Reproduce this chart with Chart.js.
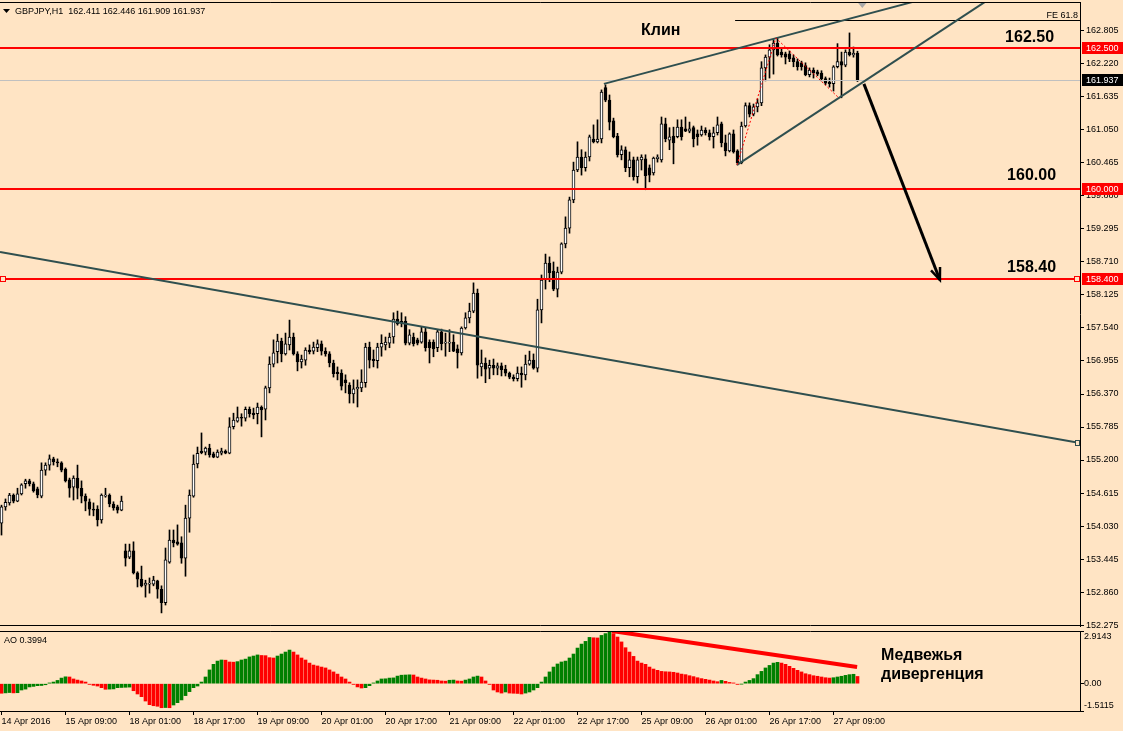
<!DOCTYPE html>
<html>
<head>
<meta charset="utf-8">
<title>GBPJPY H1</title>
<script src="https://cdn.jsdelivr.net/npm/chart.js@4.4.1/dist/chart.umd.min.js"></script>
<style>
  html, body { margin: 0; padding: 0; background: #FFE4C4; }
  #wrap { position: relative; width: 1123px; height: 731px; overflow: hidden; }
  #priceChart { position: absolute; left: 0; top: 0; }
  #aoChart { position: absolute; left: 0; top: 629px; }
</style>
</head>
<body>
<div id="wrap">
  <canvas id="priceChart" width="1123" height="632"></canvas>
  <canvas id="aoChart" width="1123" height="102"></canvas>
</div>
<script>
// Donnees GBPJPY H1
const opens = [
  154.08,154.37,154.44,154.58,154.47,154.60,154.78,154.83,154.78,154.69,
  154.56,155.02,155.11,155.22,155.17,155.15,155.04,154.85,154.72,154.88,
  154.70,154.56,154.46,154.33,154.33,154.14,154.56,154.58,154.42,154.37,
  154.31,153.59,153.48,153.59,153.20,153.09,152.98,153.00,153.00,153.06,
  152.91,152.67,153.39,153.78,153.75,153.73,153.46,154.17,154.56,155.13,
  155.36,155.34,155.41,155.31,155.25,155.32,155.36,155.32,155.79,155.89,
  155.95,155.94,156.10,156.03,156.02,156.14,156.10,156.48,156.90,157.12,
  157.31,157.08,157.24,157.38,157.08,156.94,156.97,157.15,157.13,157.19,
  157.26,157.13,157.08,156.92,156.76,156.74,156.62,156.53,156.37,156.46,
  156.48,156.57,157.20,156.99,156.96,157.20,157.24,157.27,157.38,157.70,
  157.66,157.66,157.27,157.38,157.33,157.29,157.47,157.29,157.29,157.19,
  157.47,157.27,157.27,157.29,157.17,157.10,157.54,157.72,157.84,158.16,
  156.85,156.92,156.83,156.88,156.83,156.87,156.81,156.74,156.67,156.64,
  156.74,156.71,156.90,156.97,156.83,157.86,158.39,158.69,158.55,158.23,
  158.53,159.03,159.31,159.81,160.34,160.57,160.38,160.57,160.89,160.84,
  160.89,161.80,161.58,161.21,160.94,160.61,160.70,160.38,160.52,160.22,
  160.52,160.54,160.38,160.29,160.54,160.52,161.16,160.87,160.94,160.93,
  161.10,161.07,161.03,161.09,160.98,160.96,161.05,161.00,160.93,161.00,
  161.16,160.82,160.68,160.98,160.68,160.47,161.12,161.48,161.33,161.46,
  161.53,162.15,162.34,162.47,162.59,162.43,162.40,162.40,162.33,162.26,
  162.24,162.19,162.03,162.11,162.08,162.06,161.96,161.90,161.87,162.17,
  162.26,162.20,162.43,162.38,162.411
];
const highs = [
  154.40,154.51,154.61,154.60,154.70,154.78,154.86,154.86,154.81,154.72,
  155.15,155.15,155.29,155.25,155.22,155.17,155.06,154.88,154.92,155.11,
  154.83,154.60,154.51,154.44,154.39,154.60,154.70,154.60,154.46,154.40,
  154.56,153.71,153.71,153.75,153.22,153.32,153.07,153.11,153.14,153.07,
  152.97,153.64,153.96,153.96,154.05,153.84,154.40,154.67,155.29,155.43,
  155.68,155.43,155.48,155.34,155.38,155.41,155.38,155.95,156.03,156.14,
  156.02,156.14,156.14,156.12,156.21,156.16,156.51,157.03,157.33,157.43,
  157.36,157.45,157.68,157.45,157.12,157.06,157.19,157.24,157.29,157.33,
  157.31,157.19,157.12,156.97,156.85,156.80,156.71,156.57,156.62,156.62,
  156.80,157.27,157.29,157.15,157.27,157.42,157.38,157.45,157.81,157.84,
  157.81,157.74,157.51,157.45,157.36,157.56,157.54,157.33,157.33,157.51,
  157.52,157.45,157.51,157.42,157.24,157.56,157.81,157.98,158.34,158.23,
  157.15,157.01,156.97,156.99,156.92,156.92,156.88,156.76,156.71,156.85,
  156.85,157.06,157.13,157.08,158.05,158.48,158.85,158.80,158.71,158.62,
  159.05,159.51,159.86,160.48,160.84,160.70,160.66,160.96,161.14,161.23,
  161.76,161.85,161.67,161.26,160.99,160.77,160.75,160.66,160.57,160.57,
  160.61,160.61,160.43,160.57,160.61,161.28,161.26,161.09,161.10,161.23,
  161.23,161.28,161.19,161.12,161.05,161.12,161.09,161.05,161.10,161.28,
  161.19,160.96,161.00,161.05,160.70,161.19,161.53,161.53,161.51,161.60,
  162.26,162.38,162.56,162.65,162.68,162.50,162.43,162.45,162.38,162.31,
  162.27,162.24,162.15,162.15,162.11,162.10,161.99,161.97,162.19,162.58,
  162.43,162.47,162.77,162.52,162.446
];
const lows = [
  153.87,154.31,154.40,154.44,154.46,154.58,154.70,154.74,154.63,154.53,
  154.53,154.93,155.02,155.11,155.08,154.99,154.81,154.54,154.49,154.51,
  154.44,154.30,154.22,154.21,154.03,154.08,154.54,154.37,154.31,154.26,
  154.30,153.32,153.45,153.18,152.95,152.95,152.77,152.84,152.97,152.75,
  152.49,152.63,153.37,153.66,153.69,153.37,153.14,153.92,154.54,155.06,
  155.31,155.29,155.25,155.24,155.24,155.29,155.31,155.31,155.75,155.87,
  155.80,155.89,155.96,155.93,155.84,155.61,155.91,156.39,156.85,156.92,
  156.94,157.06,157.15,157.06,156.78,156.83,156.88,157.08,157.08,157.12,
  157.06,157.04,156.85,156.67,156.62,156.44,156.39,156.21,156.21,156.14,
  156.41,156.49,156.83,156.85,156.83,157.04,157.15,157.19,157.27,157.59,
  157.56,157.24,157.24,157.22,157.24,157.27,157.13,156.92,157.03,157.12,
  157.15,157.04,157.12,157.12,156.83,157.06,157.52,157.63,157.81,156.65,
  156.69,156.57,156.64,156.71,156.71,156.69,156.69,156.64,156.60,156.60,
  156.49,156.62,156.88,156.81,156.76,157.63,158.23,158.36,158.20,158.09,
  158.50,158.96,159.22,159.76,160.31,160.25,160.32,160.50,160.82,160.82,
  160.82,161.55,161.05,160.91,160.57,160.52,160.31,160.22,160.16,160.11,
  160.34,159.99,160.13,160.25,160.48,160.48,160.84,160.70,160.45,160.91,
  160.87,161.02,161.00,160.75,160.78,160.94,160.96,160.87,160.73,160.96,
  160.75,160.59,160.66,160.64,160.43,160.45,161.10,161.28,161.30,161.37,
  161.48,161.92,161.97,162.04,162.36,162.34,162.22,162.26,162.17,162.11,
  162.11,162.01,161.99,161.97,162.01,161.92,161.85,161.81,161.74,162.15,
  161.62,162.17,162.36,162.34,161.909
];
const closes = [
  154.37,154.45,154.58,154.47,154.60,154.76,154.83,154.78,154.65,154.58,
  155.02,155.11,155.22,155.17,155.15,155.02,154.83,154.70,154.88,154.70,
  154.56,154.47,154.33,154.31,154.14,154.58,154.58,154.42,154.35,154.31,
  154.47,153.46,153.59,153.20,153.09,152.97,153.02,153.00,153.07,152.91,
  152.67,153.43,153.78,153.73,153.71,153.46,154.17,154.58,155.13,155.32,
  155.33,155.41,155.29,155.25,155.34,155.36,155.32,155.79,155.91,155.95,
  155.94,156.10,156.02,156.00,156.14,156.09,156.48,156.90,157.10,157.31,
  157.08,157.26,157.38,157.08,156.94,156.99,157.15,157.12,157.20,157.26,
  157.13,157.08,156.92,156.73,156.73,156.51,156.57,156.37,156.46,156.49,
  156.58,157.20,156.97,156.96,157.20,157.27,157.29,157.38,157.70,157.61,
  157.63,157.27,157.42,157.26,157.27,157.47,157.19,157.19,157.17,157.47,
  157.26,157.29,157.29,157.13,157.10,157.54,157.72,157.84,158.16,156.88,
  156.92,156.81,156.88,156.83,156.87,156.80,156.74,156.67,156.64,156.74,
  156.71,156.90,156.97,156.83,157.86,158.39,158.69,158.52,158.23,158.53,
  159.03,159.31,159.81,160.34,160.57,160.38,160.57,160.93,160.84,160.89,
  161.72,161.58,161.19,160.93,160.61,160.70,160.38,160.52,160.22,160.52,
  160.57,160.24,160.25,160.55,160.57,161.16,160.89,160.93,160.82,161.10,
  160.93,161.03,161.07,160.89,160.93,161.05,161.00,160.93,161.00,161.14,
  160.82,160.68,160.98,160.66,160.47,161.12,161.48,161.33,161.46,161.53,
  162.15,162.34,162.47,162.59,162.38,162.38,162.34,162.31,162.26,162.17,
  162.17,162.03,162.11,162.06,162.04,161.96,161.88,161.87,162.17,162.26,
  162.20,162.43,162.38,162.41,161.937
];

// Awesome Oscillator
const aoValues = [
  -0.53,-0.51,-0.49,-0.51,-0.50,-0.35,-0.30,-0.18,-0.15,-0.11,
  -0.10,-0.06,0.04,0.09,0.18,0.31,0.38,0.37,0.26,0.20,
  0.15,0.09,-0.04,-0.09,-0.13,-0.22,-0.31,-0.30,-0.29,-0.22,
  -0.21,-0.20,-0.19,-0.39,-0.57,-0.72,-0.96,-1.16,-1.22,-1.25,
  -1.33,-1.32,-1.33,-1.18,-1.05,-0.90,-0.66,-0.44,-0.22,-0.13,
  0.09,0.37,0.76,1.07,1.25,1.31,1.30,1.20,1.19,1.22,
  1.31,1.36,1.48,1.53,1.59,1.56,1.55,1.44,1.42,1.53,
  1.64,1.75,1.86,1.75,1.59,1.42,1.31,1.14,1.03,0.98,
  0.92,0.87,0.76,0.65,0.53,0.37,0.26,0.09,-0.04,-0.18,
  -0.24,-0.22,-0.11,0.04,0.15,0.26,0.27,0.31,0.32,0.42,
  0.47,0.48,0.49,0.48,0.37,0.31,0.26,0.21,0.20,0.19,
  0.15,0.14,0.19,0.20,0.15,0.14,0.20,0.26,0.37,0.42,
  0.37,0.15,-0.04,-0.35,-0.46,-0.52,-0.46,-0.52,-0.53,-0.54,
  -0.57,-0.52,-0.46,-0.35,-0.22,0.09,0.37,0.65,0.92,1.09,
  1.20,1.25,1.42,1.64,1.97,2.19,2.34,2.56,2.54,2.53,
  2.67,2.77,2.91,2.77,2.58,2.31,1.99,1.75,1.51,1.25,
  1.14,1.07,0.92,0.81,0.74,0.68,0.66,0.65,0.63,0.59,
  0.53,0.50,0.44,0.39,0.33,0.28,0.24,0.20,0.15,0.11,
  0.18,0.13,0.07,0.04,-0.04,-0.02,0.09,0.18,0.28,0.50,
  0.68,0.87,1.01,1.14,1.18,1.14,1.07,0.96,0.85,0.74,
  0.65,0.55,0.50,0.44,0.41,0.37,0.33,0.31,0.33,0.37,
  0.41,0.46,0.50,0.52,0.3994
];

// Echelles
const priceTicks = [162.805,162.220,161.635,161.050,160.465,159.880,159.295,158.710,158.125,
  157.540,156.955,156.370,155.785,155.200,154.615,154.030,153.445,152.860,152.275];
const aoTicks = [2.9143, 0, -1.5115];
const timeTickBars = [0,16,32,48,64,80,96,112,128,144,160,176,192,208];
const timeTickLabels = ['14 Apr 2016','15 Apr 09:00','18 Apr 01:00','18 Apr 17:00','19 Apr 09:00',
  '20 Apr 01:00','20 Apr 17:00','21 Apr 09:00','22 Apr 01:00','22 Apr 17:00','25 Apr 09:00',
  '26 Apr 01:00','26 Apr 17:00','27 Apr 09:00'];

// Niveaux et objets traces
const levels = [162.5, 160.0, 158.4];
const bidPrice = 161.937;
const fePrice = 162.999;

const FONT = '"Liberation Sans", Arial, sans-serif';
const BG = '#FFE4C4';

// Graphique principal : bougies
const wickData = highs.map((h, i) => ({ x: i, y: [lows[i], h] }));
const bodyData = opens.map((o, i) => ({ x: i, y: [o, closes[i]] }));

function line(ctx, pts, color, width, dash) {
  ctx.save();
  ctx.strokeStyle = color;
  ctx.lineWidth = width;
  ctx.setLineDash(dash || []);
  ctx.beginPath();
  pts.forEach((p, k) => k ? ctx.lineTo(p[0], p[1]) : ctx.moveTo(p[0], p[1]));
  ctx.stroke();
  ctx.restore();
}

function priceBox(ctx, yPix, text, fill) {
  const yy = Math.round(yPix);
  ctx.fillStyle = fill;
  ctx.fillRect(1082, yy - 6, 41, 12);
  ctx.fillStyle = '#FFFFFF';
  ctx.font = '9px ' + FONT;
  ctx.textAlign = 'left';
  ctx.textBaseline = 'middle';
  ctx.fillText(text, 1086, yy + 0.5);
}

// pas de marge automatique autour des axes
function noPad(s) { s.paddingTop = 0; s.paddingBottom = 0; s.paddingLeft = 0; s.paddingRight = 0; }

const priceOverlay = {
  id: 'priceOverlay',
  afterDatasetsDraw(chart) {
    const { ctx, chartArea: a, scales: { x, y } } = chart;
    const P = (i, p) => [x.getPixelForValue(i), y.getPixelForValue(p)];
    ctx.save();
    ctx.beginPath();
    ctx.rect(a.left, a.top, a.right - a.left, a.bottom - a.top);
    ctx.clip();

    // ligne du bid
    const yb = Math.round(y.getPixelForValue(bidPrice)) + 0.5;
    line(ctx, [[a.left, yb], [a.right, yb]], '#C0C0C0', 1);

    // niveaux horizontaux
    levels.forEach(p => {
      const v = Math.round(y.getPixelForValue(p));
      line(ctx, [[a.left, v], [a.right, v]], '#FF0000', 2);
    });

    // FE 61.8
    const yf = Math.round(y.getPixelForValue(fePrice)) + 0.5;
    line(ctx, [[x.getPixelForValue(183.4), yf], [a.right, yf]], '#000000', 1);

    // lignes de tendance
    line(ctx, [P(-0.375, 158.889), P(269.625, 155.502)], '#2F4F4F', 2);
    line(ctx, [P(150.6, 161.867), P(227.9, 163.32)], '#2F4F4F', 2);
    line(ctx, [P(183.875, 160.431), P(245.875, 163.32)], '#2F4F4F', 2);

    // zigzag pointille
    line(ctx, [P(183.875, 160.431), P(193.6, 162.68), P(209.1, 161.634)], '#FF0000', 1, [2, 2]);

    // fleche
    const s = P(215.6, 161.867), e = P(234.6, 158.391);
    line(ctx, [s, e], '#000000', 3);
    const ang = Math.atan2(e[1] - s[1], e[0] - s[0]);
    const L = 13, da = 0.38;
    line(ctx, [[e[0] - L * Math.cos(ang - da), e[1] - L * Math.sin(ang - da)], e,
               [e[0] - L * Math.cos(ang + da), e[1] - L * Math.sin(ang + da)]], '#000000', 2.5);

    // textes
    ctx.fillStyle = '#000000';
    ctx.font = 'bold 16px ' + FONT;
    ctx.textAlign = 'left';
    ctx.textBaseline = 'alphabetic';
    [['Клин', 159.9, 162.733], ['162.50', 250.9, 162.609],
     ['160.00', 251.4, 160.163], ['158.40', 251.4, 158.533]].forEach(t => {
      const p = P(t[1], t[2]);
      ctx.fillText(t[0], p[0], p[1]);
    });

    // FE label
    ctx.font = '9px ' + FONT;
    ctx.textAlign = 'right';
    ctx.fillText('FE 61.8', a.right - 2, yf - 3);

    // marqueur de decalage
    const tx = x.getPixelForValue(215.2);
    ctx.fillStyle = '#A9A9A9';
    ctx.beginPath();
    ctx.moveTo(tx - 5, a.top); ctx.lineTo(tx + 5, a.top); ctx.lineTo(tx, a.top + 6);
    ctx.closePath(); ctx.fill();
    ctx.restore();
  },
  afterDraw(chart) {
    const { ctx, chartArea: a, scales: { y } } = chart;
    ctx.save();
    // cadre
    line(ctx, [[a.left, a.top + 0.5], [a.right + 0.5, a.top + 0.5]], '#000000', 1);
    line(ctx, [[a.left, a.bottom - 0.5], [a.right + 0.5, a.bottom - 0.5]], '#000000', 1);

    // etiquettes de prix
    priceBox(ctx, y.getPixelForValue(162.5), '162.500', '#FF0000');
    priceBox(ctx, y.getPixelForValue(bidPrice), '161.937', '#000000');
    priceBox(ctx, y.getPixelForValue(160.0), '160.000', '#FF0000');
    priceBox(ctx, y.getPixelForValue(158.4), '158.400', '#FF0000');

    // petits carres
    const y4 = Math.round(y.getPixelForValue(158.4));
    ctx.fillStyle = BG;
    ctx.strokeStyle = '#FF0000';
    ctx.lineWidth = 1;
    [[a.right - 5.5], [0.5]].forEach(p => {
      ctx.fillRect(p[0], y4 - 2.5, 5, 5);
      ctx.strokeRect(p[0], y4 - 2.5, 5, 5);
    });
    const yt = Math.round(y.getPixelForValue(155.502));
    ctx.strokeStyle = '#2F4F4F';
    ctx.fillRect(a.right - 4.5, yt - 2.5, 4, 5);
    ctx.strokeRect(a.right - 4.5, yt - 2.5, 4, 5);

    // titre
    ctx.fillStyle = '#000000';
    ctx.beginPath();
    ctx.moveTo(3, 9); ctx.lineTo(10, 9); ctx.lineTo(6.5, 13); ctx.closePath(); ctx.fill();
    ctx.font = '9px ' + FONT;
    ctx.textAlign = 'left';
    ctx.textBaseline = 'alphabetic';
    ctx.fillText('GBPJPY,H1  162.411 162.446 161.909 161.937', 15, 14);
    ctx.restore();
  }
};

new Chart(document.getElementById('priceChart'), {
  type: 'bar',
  data: {
    datasets: [
      {
        data: bodyData,
        backgroundColor: c => closes[c.dataIndex] >= opens[c.dataIndex] ? '#FFFFFF' : '#000000',
        borderColor: '#000000',
        borderWidth: 1,
        borderSkipped: false,
        barThickness: 3,
        minBarLength: 1,
        grouped: false
      },
      {
        data: wickData,
        backgroundColor: '#000000',
        borderWidth: 0,
        barThickness: 1,
        grouped: false
      }
    ]
  },
  options: {
    responsive: false,
    animation: false,
    devicePixelRatio: 1,
    layout: { padding: { top: 2, bottom: 6, left: 0, right: 0 }, autoPadding: false },
    plugins: { legend: { display: false }, tooltip: { enabled: false } },
    scales: {
      x: { type: 'linear', min: -0.375, max: 269.625, offset: false, display: false },
      y: {
        position: 'right',
        min: 152.258,
        max: 163.318,
        afterBuildTicks: s => { s.ticks = priceTicks.map(v => ({ value: v })); },
        afterFit: s => { s.width = 43; noPad(s); },
        ticks: {
          autoSkip: false,
          padding: 2,
          color: '#000000',
          font: { family: FONT, size: 9 },
          callback: v => v.toFixed(3)
        },
        grid: { drawOnChartArea: false, tickLength: 4, color: '#000000' },
        border: { display: true, color: '#000000' }
      }
    }
  },
  plugins: [priceOverlay]
});

// Indicateur AO
const aoOverlay = {
  id: 'aoOverlay',
  afterDatasetsDraw(chart) {
    const { ctx, chartArea: a, scales: { x, y } } = chart;
    const P = (i, v) => [x.getPixelForValue(i), y.getPixelForValue(v)];
    ctx.save();
    ctx.beginPath();
    ctx.rect(a.left, a.top, a.right - a.left, a.bottom - a.top);
    ctx.clip();
    line(ctx, [P(152.6, 2.9143), P(213.9, 0.923)], '#FF0000', 4);
    ctx.restore();

    ctx.save();
    line(ctx, [[a.left, a.top + 0.5], [a.right + 0.5, a.top + 0.5]], '#000000', 1);
    ctx.fillStyle = '#000000';
    ctx.font = 'bold 16px ' + FONT;
    ctx.textAlign = 'left';
    ctx.textBaseline = 'alphabetic';
    let p = P(219.9, 1.310);
    ctx.fillText('Медвежья', p[0], p[1]);
    p = P(219.9, 0.259);
    ctx.fillText('дивергенция', p[0], p[1]);
    ctx.font = '9px ' + FONT;
    ctx.fillText('AO 0.3994', 4, a.top + 12);
    ctx.restore();
  }
};

new Chart(document.getElementById('aoChart'), {
  type: 'bar',
  data: {
    datasets: [{
      data: aoValues.map((v, i) => ({ x: i, y: v })),
      backgroundColor: c => {
        const i = c.dataIndex;
        return i > 0 && aoValues[i] > aoValues[i - 1] ? '#008000' : '#FF0000';
      },
      borderWidth: 0,
      barThickness: 3
    }]
  },
  options: {
    responsive: false,
    animation: false,
    devicePixelRatio: 1,
    layout: { padding: { top: 2, bottom: 0, left: 0, right: 0 }, autoPadding: false },
    plugins: { legend: { display: false }, tooltip: { enabled: false } },
    scales: {
      x: {
        type: 'linear',
        min: -0.375,
        max: 269.625,
        offset: false,
        position: 'bottom',
        afterBuildTicks: s => { s.ticks = timeTickBars.map(v => ({ value: v })); },
        afterFit: s => { s.height = 20; noPad(s); },
        ticks: {
          autoSkip: false,
          maxRotation: 0,
          align: 'start',
          padding: 1,
          color: '#000000',
          font: { family: FONT, size: 9 },
          callback: v => timeTickLabels[timeTickBars.indexOf(v)]
        },
        grid: { drawOnChartArea: false, offset: false, tickLength: 4, color: '#000000' },
        border: { display: true, color: '#000000' }
      },
      y: {
        position: 'right',
        min: -1.5115,
        max: 2.9143,
        afterBuildTicks: s => { s.ticks = aoTicks.map(v => ({ value: v })); },
        afterFit: s => { s.width = 43; noPad(s); },
        ticks: {
          autoSkip: false,
          padding: 0,
          color: '#000000',
          font: { family: FONT, size: 9 },
          callback: v => v === aoTicks[0] ? ['', '2.9143'] : (v === 0 ? '0.00' : ['-1.5115', ''])
        },
        grid: { drawOnChartArea: false, tickLength: 4, color: '#000000' },
        border: { display: true, color: '#000000' }
      }
    }
  },
  plugins: [aoOverlay]
});
</script>
</body>
</html>
